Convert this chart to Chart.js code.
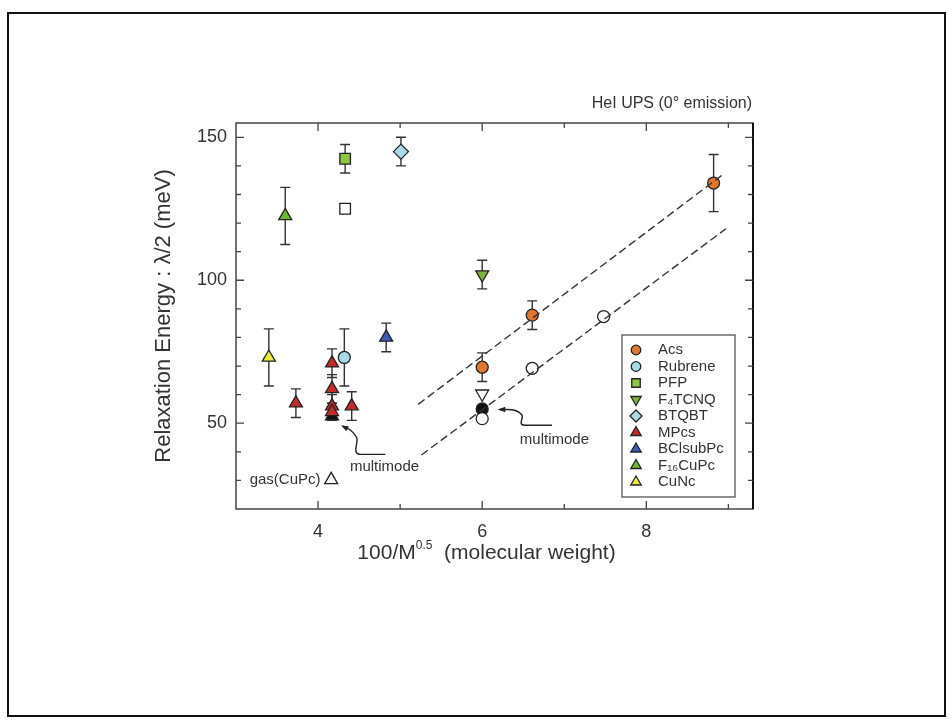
<!DOCTYPE html>
<html>
<head>
<meta charset="utf-8">
<script src="https://cdn.jsdelivr.net/npm/chart.js@4.4.0/dist/chart.umd.min.js"></script>
<style>
html, body { margin: 0; padding: 0; background: #fff; }
#wrap { position: relative; width: 952px; height: 721px; }
#frame { position: absolute; left: 7px; top: 12px; width: 935px; height: 701px; border: 2px solid #111; pointer-events: none; }
</style>
</head>
<body>
<div id="wrap">
  <canvas id="chart" width="952" height="721"></canvas>
  <div id="frame"></div>
</div>
<script>
// values
const acsX = [6.0, 6.61, 8.82];
const acsY = [69.6, 87.8, 134];
const acsErr = [5, 5, 10];

const rubreneX = [4.32];
const rubreneY = [73];
const rubreneErr = [10];

const pfpX = [4.33];
const pfpY = [142.5];
const pfpErr = [5];

const f4tcnqX = [6.0];
const f4tcnqY = [102];
const f4tcnqErr = [5];

const btqbtX = [5.01];
const btqbtY = [145];
const btqbtErr = [5];

const mpcsX = [3.73, 4.17, 4.17, 4.17, 4.17, 4.41];
const mpcsY = [57, 71, 62, 56, 54, 56];
const mpcsErr = [5, 5, 5, 4, 3, 5];

const bclX = [4.83];
const bclY = [80];
const bclErr = [5];

const f16X = [3.60];
const f16Y = [122.5];
const f16Err = [10];

const cuncX = [3.40];
const cuncY = [73];
const cuncErr = [10];

// open / black markers (not in legend)
const openSquareX = [4.33];
const openSquareY = [125];
const openCircleX = [6.0, 6.61, 7.48];
const openCircleY = [51.6, 69.2, 87.3];
const openDownX = [6.0];
const openDownY = [60.3];
const blackCircleX = [6.0];
const blackCircleY = [55];
const blackTriX = [4.17];
const blackTriY = [52.5];
const gasX = [4.16];
const gasY = [30.2];

// dashed fit lines
const upperFitX = [5.22, 8.92];
const upperFitY = [56.6, 136.7];
const lowerFitX = [5.26, 8.97];
const lowerFitY = [38.9, 118];

// axis ticks (labels only on the major ones)
const xTicks = [3, 4, 5, 6, 7, 8, 9];
const xLabels = [4, 6, 8];
const yTicks = [20, 30, 40, 50, 60, 70, 80, 90, 100, 110, 120, 130, 140, 150];
const yLabels = [50, 100, 150];

const FONT = '"Liberation Sans", Arial, sans-serif';
const TXT = '#333';

function pts(xs, ys) {
    return xs.map((x, i) => ({x: x, y: ys[i]}));
}

const sizes = {circle: 6, triangle: 7.5, rect: 7.5, rectRot: 7.5};

function series(label, xs, ys, errs, style, fill, rot, legend) {
    return {
        type: 'scatter',
        label: label,
        data: pts(xs, ys),
        errors: errs,
        inLegend: legend,
        pointStyle: style,
        rotation: rot || 0,
        pointRadius: sizes[style],
        pointBackgroundColor: fill,
        pointBorderColor: '#222',
        pointBorderWidth: 1.3
    };
}

function fitLine(xs, ys) {
    return {
        type: 'line',
        data: pts(xs, ys),
        borderColor: '#333',
        borderWidth: 1.4,
        borderDash: [8, 4],
        pointRadius: 0,
        fill: false
    };
}

const datasets = [
    fitLine(upperFitX, upperFitY),
    fitLine(lowerFitX, lowerFitY),
    series('Acs', acsX, acsY, acsErr, 'circle', '#e0772e', 0, true),
    series('Rubrene', rubreneX, rubreneY, rubreneErr, 'circle', '#a8dbe8', 0, true),
    series('PFP', pfpX, pfpY, pfpErr, 'rect', '#8dc63f', 0, true),
    series('F\u2084TCNQ', f4tcnqX, f4tcnqY, f4tcnqErr, 'triangle', '#7db332', 180, true),
    series('BTQBT', btqbtX, btqbtY, btqbtErr, 'rectRot', '#a9dce6', 0, true),
    series('MPcs', mpcsX, mpcsY, mpcsErr, 'triangle', '#c42a2a', 0, true),
    series('BClsubPc', bclX, bclY, bclErr, 'triangle', '#3d5bb5', 0, true),
    series('F\u2081\u2086CuPc', f16X, f16Y, f16Err, 'triangle', '#6cb82e', 0, true),
    series('CuNc', cuncX, cuncY, cuncErr, 'triangle', '#eeea3c', 0, true),
    series('', openSquareX, openSquareY, null, 'rect', '#fff', 0, false),
    series('', openCircleX, openCircleY, null, 'circle', '#fff', 0, false),
    series('', openDownX, openDownY, null, 'triangle', '#fff', 180, false),
    series('', blackCircleX, blackCircleY, null, 'circle', '#111', 0, false),
    series('', blackTriX, blackTriY, null, 'triangle', '#111', 0, false),
    series('', gasX, gasY, null, 'triangle', '#fff', 0, false)
];

const errorBars = {
    id: 'errorBars',
    beforeDatasetsDraw(chart) {
        const ctx = chart.ctx;
        const ys = chart.scales.y;
        ctx.save();
        ctx.strokeStyle = '#333';
        ctx.lineWidth = 1.4;
        chart.data.datasets.forEach((ds, i) => {
            if (!ds.errors) return;
            const meta = chart.getDatasetMeta(i);
            meta.data.forEach((el, j) => {
                const v = ds.data[j].y;
                const e = ds.errors[j];
                const top = ys.getPixelForValue(v + e);
                const bot = ys.getPixelForValue(v - e);
                ctx.beginPath();
                ctx.moveTo(el.x, top); ctx.lineTo(el.x, bot);
                ctx.moveTo(el.x - 5, top); ctx.lineTo(el.x + 5, top);
                ctx.moveTo(el.x - 5, bot); ctx.lineTo(el.x + 5, bot);
                ctx.stroke();
            });
        });
        ctx.restore();
    }
};

function arrowHead(ctx, x, y, ang) {
    ctx.beginPath();
    ctx.moveTo(x, y);
    ctx.lineTo(x - 8 * Math.cos(ang - 0.35), y - 8 * Math.sin(ang - 0.35));
    ctx.lineTo(x - 8 * Math.cos(ang + 0.35), y - 8 * Math.sin(ang + 0.35));
    ctx.closePath();
    ctx.fill();
}

const decorations = {
    id: 'decorations',
    afterDraw(chart) {
        const ctx = chart.ctx;
        const a = chart.chartArea;
        const xs = chart.scales.x, ys = chart.scales.y;
        const px = v => xs.getPixelForValue(v);
        const py = v => ys.getPixelForValue(v);
        ctx.save();

        // frame and inward ticks
        ctx.strokeStyle = '#444';
        ctx.lineWidth = 1.5;
        ctx.strokeRect(a.left, a.top, a.right - a.left, a.bottom - a.top);
        ctx.strokeStyle = '#111';
        ctx.lineWidth = 2;
        ctx.beginPath(); ctx.moveTo(a.right, a.top); ctx.lineTo(a.right, a.bottom); ctx.stroke();
        ctx.strokeStyle = '#444';
        ctx.lineWidth = 1.3;
        ctx.beginPath();
        xs.ticks.forEach(t => {
            const v = t.value;
            if (v <= xs.min || v >= xs.max) return;
            const len = xLabels.includes(v) ? 8 : 5;
            const x = px(v);
            ctx.moveTo(x, a.bottom); ctx.lineTo(x, a.bottom - len);
            ctx.moveTo(x, a.top); ctx.lineTo(x, a.top + len);
        });
        ys.ticks.forEach(t => {
            const v = t.value;
            if (v <= ys.min || v >= ys.max) return;
            const len = yLabels.includes(v) ? 8 : 5;
            const y = py(v);
            ctx.moveTo(a.left, y); ctx.lineTo(a.left + len, y);
            ctx.moveTo(a.right, y); ctx.lineTo(a.right - len, y);
        });
        ctx.stroke();

        // top-right title
        ctx.fillStyle = TXT;
        ctx.font = '16px ' + FONT;
        ctx.textAlign = 'right';
        ctx.textBaseline = 'middle';
        ctx.fillText('HeI UPS (0\u00b0 emission)', a.right - 1, 104);

        // x axis title with superscript
        const cx = (a.left + a.right) / 2 - 8, ty = 553;
        const big = '21px ' + FONT, small = '12px ' + FONT;
        ctx.font = big;
        const w1 = ctx.measureText('100/M').width;
        const w3 = ctx.measureText('  (molecular weight)').width;
        ctx.font = small;
        const w2 = ctx.measureText('0.5').width;
        let x0 = cx - (w1 + w2 + w3) / 2;
        ctx.textAlign = 'left';
        ctx.textBaseline = 'middle';
        ctx.font = big; ctx.fillText('100/M', x0, ty);
        ctx.font = small; ctx.fillText('0.5', x0 + w1, ty - 7);
        ctx.font = big; ctx.fillText('  (molecular weight)', x0 + w1 + w2, ty);

        // annotations
        ctx.font = '15px ' + FONT;
        ctx.textAlign = 'right';
        ctx.fillText('gas(CuPc)', px(4.03), py(30.2));
        ctx.textAlign = 'center';
        ctx.fillText('multimode', px(4.81), py(34.6));
        ctx.fillText('multimode', px(6.88), py(44.2));

        ctx.strokeStyle = '#222';
        ctx.fillStyle = '#222';
        ctx.lineWidth = 1.4;
        // arrow 1 to the MPcs cluster
        ctx.beginPath();
        ctx.moveTo(px(4.82), py(39.1));
        ctx.lineTo(px(4.52), py(39.1));
        ctx.bezierCurveTo(px(4.40), py(39.1), px(4.50), py(43.5), px(4.47), py(45));
        ctx.bezierCurveTo(px(4.44), py(47), px(4.36), py(48.5), px(4.30), py(49));
        ctx.stroke();
        arrowHead(ctx, px(4.28), py(49.3), Math.PI + 0.5);
        // arrow 2 to the black circle
        ctx.beginPath();
        ctx.moveTo(px(6.85), py(49.3));
        ctx.lineTo(px(6.52), py(49.3));
        ctx.bezierCurveTo(px(6.42), py(49.3), px(6.52), py(52), px(6.48), py(53));
        ctx.bezierCurveTo(px(6.45), py(54.2), px(6.38), py(54.8), px(6.30), py(54.8));
        ctx.lineTo(px(6.22), py(54.8));
        ctx.stroke();
        arrowHead(ctx, px(6.19), py(54.8), Math.PI);

        // legend box
        const lx = a.right - 131, ly = a.top + 212, lw = 113, lh = 162;
        ctx.strokeStyle = '#555';
        ctx.lineWidth = 1.3;
        ctx.strokeRect(lx, ly, lw, lh);
        let row = 0;
        chart.data.datasets.forEach(ds => {
            if (!ds.inLegend) return;
            const y = ly + 15 + row * 16.5;
            ctx.fillStyle = ds.pointBackgroundColor;
            ctx.strokeStyle = ds.pointBorderColor;
            ctx.lineWidth = ds.pointBorderWidth;
            Chart.helpers.drawPoint(ctx, {
                pointStyle: ds.pointStyle,
                radius: ds.pointRadius * 0.8,
                rotation: ds.rotation,
                borderWidth: ds.pointBorderWidth
            }, lx + 14, y);
            ctx.fillStyle = TXT;
            ctx.font = '15px ' + FONT;
            ctx.textAlign = 'left';
            ctx.textBaseline = 'middle';
            ctx.fillText(ds.label, lx + 36, y);
            row++;
        });
        ctx.restore();
    }
};

new Chart('chart', {
    data: {datasets: datasets},
    options: {
        responsive: false,
        animation: false,
        layout: {padding: {left: 151, right: 199, top: 123, bottom: 0}},
        plugins: {legend: {display: false}, tooltip: {enabled: false}},
        scales: {
            x: {
                type: 'linear', min: 3, max: 9.3,
                afterFit(s) { s.height = 212; },
                afterBuildTicks(s) { s.ticks = xTicks.map(v => ({value: v})); },
                grid: {display: false, drawTicks: false},
                border: {display: false},
                ticks: {
                    autoSkip: false, padding: 12, color: TXT,
                    font: {size: 18, family: FONT},
                    callback: v => (xLabels.includes(v) ? v : '')
                }
            },
            y: {
                type: 'linear', min: 20, max: 155,
                afterFit(s) { s.width = 236 - 151; },
                afterBuildTicks(s) { s.ticks = yTicks.map(v => ({value: v})); },
                grid: {display: false, drawTicks: false},
                border: {display: false},
                ticks: {
                    autoSkip: false, padding: 9, color: TXT,
                    font: {size: 18, family: FONT},
                    callback: v => (yLabels.includes(v) ? v : '')
                },
                title: {
                    display: true, text: 'Relaxation Energy : \u03bb/2 (meV)',
                    color: TXT, padding: 0,
                    font: {size: 22, family: FONT}
                }
            }
        }
    },
    plugins: [errorBars, decorations]
});
</script>
</body>
</html>
